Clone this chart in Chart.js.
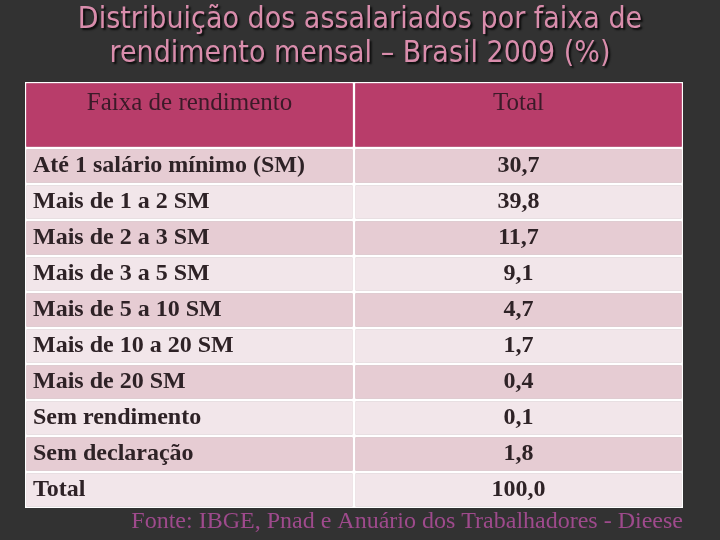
<!DOCTYPE html>
<html>
<head>
<meta charset="utf-8">
<script src="https://cdn.jsdelivr.net/npm/chart.js@4"></script>
<style>
  html, body { margin: 0; padding: 0; background: #323232; }
  canvas { display: block; }
</style>
</head>
<body>
<canvas id="tabela" width="720" height="540"></canvas>
<script>
// dados da tabela
const titulo = ['Distribuição dos assalariados por faixa de', 'rendimento mensal – Brasil 2009 (%)'];
const colunas = ['Faixa de rendimento', 'Total'];
const faixas = [
  'Até 1 salário mínimo (SM)',
  'Mais de 1 a 2 SM',
  'Mais de 2 a 3 SM',
  'Mais de 3 a 5 SM',
  'Mais de 5 a 10 SM',
  'Mais de 10 a 20 SM',
  'Mais de 20 SM',
  'Sem rendimento',
  'Sem declaração',
  'Total'
];
const totais = [30.7, 39.8, 11.7, 9.1, 4.7, 1.7, 0.4, 0.1, 1.8, 100.0];
const fonte = 'Fonte: IBGE, Pnad e Anuário dos Trabalhadores - Dieese';

const alturaCabecalho = 1.833; // cabeçalho ocupa quase duas linhas

const formatar = (v) => v.toFixed(1).replace('.', ',');

// cada linha da tabela vira um dataset de barras flutuantes (uma por coluna)
const datasets = [{
  data: [[-alturaCabecalho, 0], [-alturaCabecalho, 0]],
  backgroundColor: '#B83D6A',
}];
faixas.forEach((f, i) => {
  datasets.push({
    data: [[i, i + 1], [i, i + 1]],
    backgroundColor: i % 2 === 0 ? '#E6CCD3' : '#F2E6EA',
  });
});
datasets.forEach((d) => {
  d.borderColor = '#FFFFFF';
  d.borderWidth = 1.5;
  d.borderSkipped = false;
  d.grouped = false;
  d.barPercentage = 1;
  d.categoryPercentage = 1;
});

const textosTabela = {
  id: 'textosTabela',
  beforeDraw(chart) {
    const ctx = chart.ctx;
    ctx.save();
    ctx.fillStyle = '#323232';
    ctx.fillRect(0, 0, chart.width, chart.height);
    ctx.restore();
  },
  afterDatasetsDraw(chart) {
    const ctx = chart.ctx;
    const x = chart.scales.x;
    const y = chart.scales.y;
    const area = chart.chartArea;
    ctx.save();

    // cabeçalho
    ctx.font = '25px "Liberation Serif"';
    ctx.fillStyle = '#3B1A28';
    ctx.textAlign = 'center';
    ctx.textBaseline = 'middle';
    colunas.forEach((c, j) => {
      ctx.fillText(c, x.getPixelForValue(j), y.getPixelForValue(-alturaCabecalho) + 21);
    });

    // linhas
    ctx.font = 'bold 24px "Liberation Serif"';
    ctx.fillStyle = '#2E2226';
    faixas.forEach((f, i) => {
      const py = y.getPixelForValue(i + 0.5);
      ctx.textAlign = 'left';
      ctx.fillText(f, area.left + 8, py);
      ctx.textAlign = 'center';
      ctx.fillText(formatar(totais[i]), x.getPixelForValue(1), py);
    });

    // título
    ctx.font = '30px "DejaVu Sans Condensed", "DejaVu Sans"';
    ctx.textAlign = 'center';
    ctx.textBaseline = 'middle';
    ctx.shadowColor = 'rgba(0,0,0,0.8)';
    ctx.shadowOffsetX = 2;
    ctx.shadowOffsetY = 2;
    ctx.shadowBlur = 2;
    ctx.fillStyle = '#D98DAC';
    titulo.forEach((t, k) => {
      ctx.fillText(t, 360, 20 + k * 34);
    });
    ctx.shadowColor = 'transparent';

    // fonte
    ctx.font = '24px "Liberation Serif"';
    ctx.fillStyle = '#9E4A8C';
    ctx.textAlign = 'right';
    ctx.fillText(fonte, area.right, 522);
    ctx.restore();
  }
};

new Chart(document.getElementById('tabela'), {
  type: 'bar',
  data: { labels: colunas, datasets },
  options: {
    responsive: false,
    animation: false,
    layout: { padding: { left: 25, right: 37, top: 82, bottom: 32 } },
    scales: {
      x: { display: false },
      y: { display: false, reverse: true, min: -alturaCabecalho, max: faixas.length }
    },
    plugins: {
      legend: { display: false },
      tooltip: { enabled: false },
      title: { display: false }
    }
  },
  plugins: [textosTabela]
});
</script>
</body>
</html>
